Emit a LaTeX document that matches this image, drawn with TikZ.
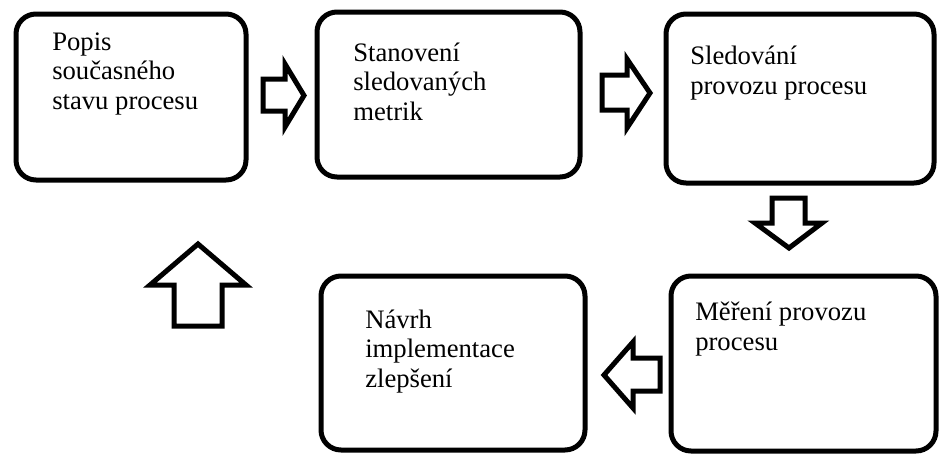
\documentclass[tikz,border=0pt]{standalone}
\usepackage{fontspec}
\setmainfont{Liberation Serif}
\usetikzlibrary{fit}

\begin{document}
\begin{tikzpicture}[x=0.75pt, y=-0.75pt,
    box/.style={draw, line width=3.75pt, rounded corners=15pt, inner sep=0pt},
    txt/.style={anchor=base west, align=left, inner sep=0pt,
      font=\fontsize{20}{22}\selectfont},
    barrow/.style={draw, line width=3.75pt}]
      \useasboundingbox (0, 0) rectangle (939, 458);
      % boxes
      \node[box, fit={(16, 14) (246, 180)}] (popis) {};
      \node[box, fit={(317, 12) (580, 177)}] (metriky) {};
      \node[box, fit={(666, 14) (934, 183)}] (sledovani) {};
      \node[box, fit={(671, 276) (936, 451)}] (mereni) {};
      \node[box, fit={(321, 276) (585, 450)}] (navrh) {};
      % texts (anchored at the last line)
      \node[txt] (popis text) at (52, 109) {Popis\\současného\\stavu procesu};
      \node[txt] (metriky text) at (353, 120) {Stanovení\\sledovaných\\metrik};
      \node[txt] (sledovani text) at (690, 94) {Sledování\\provozu procesu};
      \node[txt] (mereni text) at (695, 350) {Měření provozu\\procesu};
      \node[txt] (navrh text) at (365, 387) {Návrh\\implementace\\zlepšení};
      % block arrows
      \draw[barrow] (263, 79) -- (285, 79) -- (285, 64) -- (304, 95.5)
        -- (285, 127) -- (285, 111) -- (263, 111) -- cycle;
      \draw[barrow] (602, 75) -- (627, 75) -- (627, 59) -- (650, 93)
        -- (627, 128) -- (627, 110) -- (602, 110) -- cycle;
      \draw[barrow] (772, 198) -- (805, 198) -- (805, 223) -- (822, 223)
        -- (789, 248) -- (755, 223) -- (772, 223) -- cycle;
      \draw[barrow] (660, 358) -- (633, 358) -- (633, 342) -- (604, 375)
        -- (633, 408) -- (633, 391) -- (660, 391) -- cycle;
      \draw[barrow] (174, 326) -- (174, 285) -- (150, 285) -- (198, 244)
        -- (246, 285) -- (222, 285) -- (222, 326) -- cycle;
    \end{tikzpicture}
\end{document}
